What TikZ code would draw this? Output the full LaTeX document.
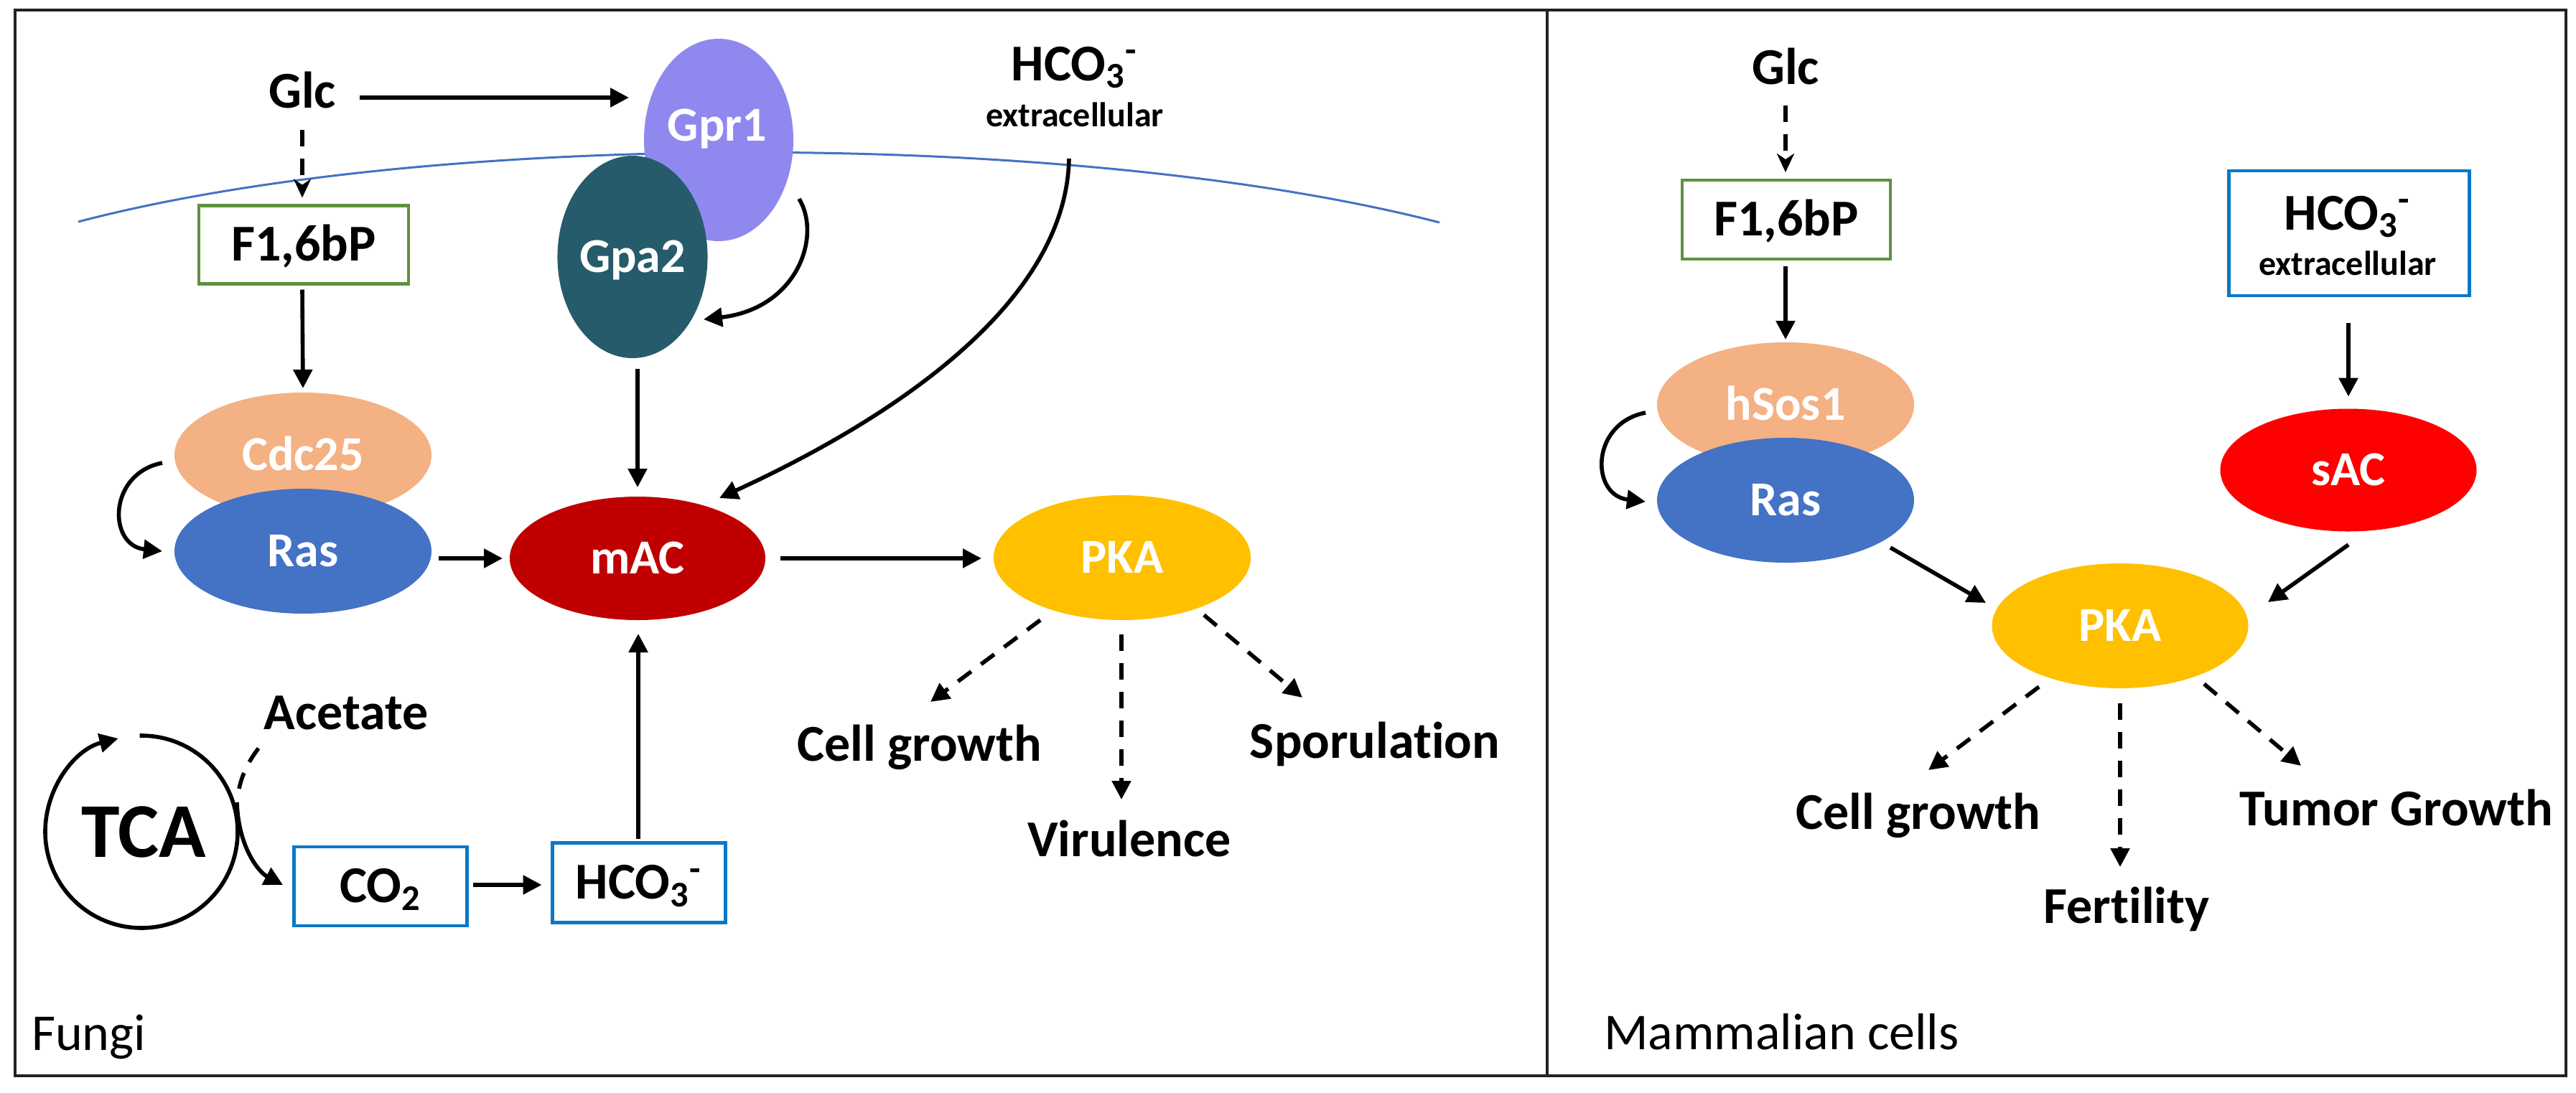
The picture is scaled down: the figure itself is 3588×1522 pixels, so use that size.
\documentclass[tikz,border=0pt]{standalone}
\usepackage{fontspec}
\setmainfont[Ligatures=NoCommon]{Carlito}
\usetikzlibrary{calc,arrows.meta,shapes.geometric}
\definecolor{gprc}{HTML}{8F88EE}
\definecolor{gpac}{HTML}{265B6B}
\definecolor{cdcc}{HTML}{F4B183}
\definecolor{rasc}{HTML}{4472C4}
\definecolor{macc}{HTML}{C00000}
\definecolor{pkac}{HTML}{FFC000}
\definecolor{sacc}{HTML}{FF0000}
\definecolor{grnc}{HTML}{5E9140}
\definecolor{bluc}{HTML}{0A78C8}
\definecolor{memc}{HTML}{4472C4}
\definecolor{framec}{HTML}{222222}
\begin{document}
\begin{tikzpicture}[x=0.25pt,y=-0.25pt,
  lbl/.style={inner sep=0pt,outer sep=0pt,anchor=base,font=\fontsize{18}{22}\selectfont\bfseries},
  slbl/.style={inner sep=0pt,outer sep=0pt,anchor=base,font=\fontsize{12}{14}\selectfont\bfseries},
  rlbl/.style={inner sep=0pt,outer sep=0pt,anchor=base west,font=\fontsize{18}{22}\selectfont},
  ell/.style={ellipse,inner sep=0pt,outer sep=0pt,text=white,font=\fontsize{17}{20}\selectfont\bfseries,text height=10.7pt,text depth=0pt},
  wlbl/.style={inner sep=0pt,outer sep=0pt,anchor=base,text=white,font=\fontsize{17}{20}\selectfont\bfseries},
  boxn/.style={draw,line width=1.1pt,inner sep=0pt,outer sep=0pt,font=\fontsize{18}{22}\selectfont\bfseries,text height=11.4pt,text depth=0pt},
  arr/.style={line width=1.4pt,-{Triangle[length=6.5pt,width=6.5pt]}},
  darr/.style={arr,dash pattern=on 5.75pt off 4.25pt},
  sarr/.style={line width=1.4pt,dash pattern=on 5.75pt off 4.25pt,-{Stealth[length=6.5pt,width=6pt,inset=2pt]}},
  frame/.style={line width=1.1pt,draw=framec},
  mem/.style={line width=0.75pt,draw=memc}]
\useasboundingbox (0,0) rectangle (3588,1522);
% frame
\draw[frame] (21,14) rectangle (3574,1499);
\draw[frame] (2155,14) -- (2155,1499);
% membrane
\draw[mem] (109,309) .. controls (600,180) and (1500,180) .. (2005,310);

% ---------- Fungi ----------
\node[ell,fill=gprc,minimum width=52pt,minimum height=70.5pt] (gpr1) at (1001,195) {};
\node[wlbl] (gpr1t) at (999,196) {Gpr1};
\node[ell,fill=gpac,minimum width=52pt,minimum height=70.5pt] (gpa2) at (881,358) {Gpa2};
\node[ell,fill=cdcc,minimum width=89.5pt,minimum height=43.5pt] (cdc25) at (422,634) {Cdc25};
\node[ell,fill=rasc,minimum width=89.5pt,minimum height=43.5pt] (rasF) at (422,768) {Ras};
\node[ell,fill=macc,minimum width=89pt,minimum height=43pt] (mac) at (888,778) {mAC};
\node[ell,fill=pkac,minimum width=89.5pt,minimum height=43.5pt] (pkaF) at (1563,777) {PKA};

\node[lbl] (glcF) at (421,150) {Glc};
\node[boxn,draw=grnc,minimum width=73pt,minimum height=27.25pt] (f16F) at (423,341) {F1,6bP};
\node[lbl] (hcoFa) at (1497,112) {HCO\textsubscript{3}\textsuperscript{-}};
\node[slbl] (hcoFb) at (1497,176) {extracellular};
\node[lbl] (acet) at (482,1016) {Acetate};
\node[circle,minimum size=67pt,inner sep=0pt,outer sep=0pt] (tca) at (197,1159) {};
\node[inner sep=0pt,anchor=base,font=\fontsize{27}{30}\selectfont\bfseries] (tcat) at (200,1194) {TCA};
\node[boxn,draw=bluc,minimum width=60.25pt,minimum height=27.5pt] (co2) at (530,1235) {CO\textsubscript{2}};
\node[boxn,draw=bluc,minimum width=60.25pt,minimum height=27.75pt] (hco3) at (890,1230) {HCO\textsubscript{3}\textsuperscript{-}};
\node[lbl] (cellF) at (1281,1060) {Cell growth};
\node[lbl] (viru) at (1573,1193) {Virulence};
\node[lbl] (spor) at (1915,1056) {Sporulation};
\node[rlbl] (fungi) at (44,1463) {Fungi};

% fungi connectors
\draw[arr] ($(glcF.base east)+(33,-14)$) -- ($(gpr1.west)+(-21,-59)$);
\draw[sarr] ($(glcF.base)+(0,31)$) -- ($(f16F.north)+(-2,-11)$);
\draw[arr] ($(f16F.south)+(-2,8)$) -- ($(cdc25.north)+(0,-6)$);
\draw[arr] ($(gpr1.center)+(112,82)$) .. controls ($(gpr1.center)+(144,135)$) and ($(gpa2.center)+(229,72)$) .. ($(gpa2.center)+(99,87)$);
\draw[arr] ($(gpa2.south)+(7,15)$) -- ($(mac.north)+(0,-13)$);
\draw[arr] ($(cdc25.center)+(-196,11)$) .. controls ($(cdc25.center)+(-272,26)$) and ($(rasF.center)+(-272,-8)$) .. ($(rasF.center)+(-196,0)$);
\draw[arr] ($(rasF.east)+(10,10)$) -- ($(mac.west)+(-10,0)$);
\draw[arr] ($(hcoFb.base)+(-8,45)$) .. controls ($(hcoFb.base)+(-12,244)$) and ($(mac.center)+(362,-198)$) .. ($(mac.center)+(114,-84)$);
\draw[arr] ($(mac.east)+(21,0)$) -- ($(pkaF.west)+(-17,1)$);
\draw[darr] ($(pkaF.center)+(-114,87)$) -- ($(cellF.base)+(15,-82)$);
\draw[darr] ($(pkaF.south)+(-1,20)$) -- ($(viru.base)+(-11,-79)$);
\draw[darr] ($(pkaF.center)+(114,80)$) -- ($(spor.base)+(-101,-84)$);
\draw[arr] (tca.91) arc[start angle=91,end angle=-256,radius=33.5pt];
\draw[arr] ($(tca.center)+(133,-41)$) .. controls ($(tca.center)+(135,21)$) and ($(co2.center)+(-170,-20)$) .. ($(co2.center)+(-136,-2)$);
\draw[line width=1.4pt,dash pattern=on 5.75pt off 4.25pt] ($(tca.center)+(136,-60)$) .. controls ($(tca.center)+(141,-84)$) and ($(acet.base)+(-132,39)$) .. ($(acet.base)+(-119,23)$);
\draw[arr] ($(co2.east)+(8,-2)$) -- ($(hco3.west)+(-15,3)$);
\draw[arr] ($(hco3.north)+(-1,-6)$) -- ($(mac.south)+(1,19)$);

% ---------- Mammalian ----------
\node[lbl] (glcM) at (2487,117) {Glc};
\node[boxn,draw=grnc,minimum width=72.5pt,minimum height=27.5pt] (f16M) at (2488,306) {F1,6bP};
\node[ell,fill=cdcc,minimum width=89.5pt,minimum height=43.5pt] (hsos) at (2487,564) {hSos1};
\node[ell,fill=rasc,minimum width=89.5pt,minimum height=43.5pt] (rasM) at (2487,697) {Ras};
\node[boxn,draw=bluc,minimum width=83.75pt,minimum height=43.5pt] (hcoM) at (3272,325) {};
\node[lbl] (hcoMa) at (3270,320) {HCO\textsubscript{3}\textsuperscript{-}};
\node[slbl] (hcoMb) at (3270,383) {extracellular};
\node[ell,fill=sacc,minimum width=89.25pt,minimum height=42.75pt] (sac) at (3271,655) {sAC};
\node[ell,fill=pkac,minimum width=89.25pt,minimum height=43.5pt] (pkaM) at (2953,872) {PKA};
\node[lbl] (cellM) at (2672,1155) {Cell growth};
\node[lbl] (tumor) at (3338,1150) {Tumor Growth};
\node[lbl] (fert) at (2962,1286) {Fertility};
\node[rlbl] (mamm) at (2234,1462) {Mammalian cells};

% mammalian connectors
\draw[sarr] ($(glcM.base)+(0,30)$) -- ($(f16M.north)+(-1,-11)$);
\draw[arr] ($(f16M.south)+(-1,10)$) -- ($(hsos.north)+(0,-4)$);
\draw[arr] ($(hsos.center)+(-195,11)$) .. controls ($(hsos.center)+(-272,26)$) and ($(rasM.center)+(-272,-7)$) .. ($(rasM.center)+(-195,2)$);
\draw[arr] ($(hcoM.south)+(-1,38)$) -- ($(sac.north)+(0,-17)$);
\draw[arr] ($(rasM.center)+(146,66)$) -- ($(pkaM.center)+(-187,-32)$);
\draw[arr] ($(sac.center)+(0,104)$) -- ($(pkaM.center)+(206,-33)$);
\draw[darr] ($(pkaM.center)+(-113,85)$) -- ($(cellM.base)+(14,-82)$);
\draw[darr] ($(pkaM.south)+(0,21)$) -- ($(fert.base)+(-9,-78)$);
\draw[darr] ($(pkaM.center)+(117,81)$) -- ($(tumor.base)+(-133,-83)$);
\end{tikzpicture}
\end{document}
